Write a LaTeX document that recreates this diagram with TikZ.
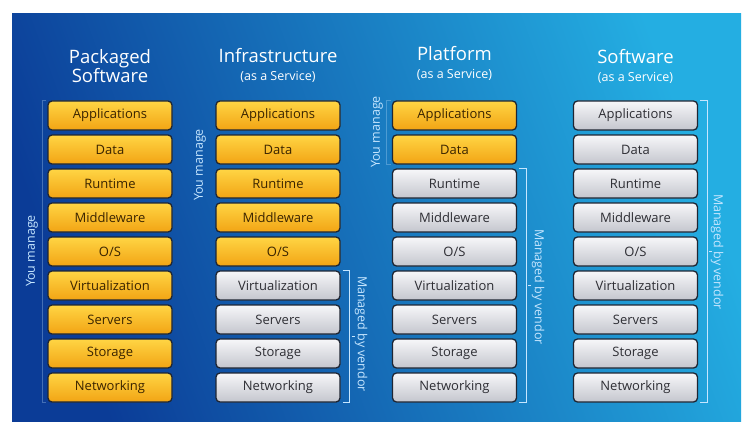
\documentclass[tikz,border=0pt]{standalone}
\usepackage{fontspec}
\setmainfont{Open Sans}
\definecolor{PanelDark}{HTML}{0B3C97}
\definecolor{PanelLight}{HTML}{24AEE2}
\definecolor{BoxOrangeTop}{HTML}{FFD544}
\definecolor{BoxOrangeBot}{HTML}{F2A414}
\definecolor{BoxGrayTop}{HTML}{F7F7F9}
\definecolor{BoxGrayBot}{HTML}{C4C6CE}
\definecolor{BoxEdge}{HTML}{1F2633}
\definecolor{TextBrown}{HTML}{3A2400}
\definecolor{TextGray}{HTML}{2E2E34}
\definecolor{LabelBlue}{HTML}{C6E6FF}
\usepackage{tikz}
\usetikzlibrary{positioning, calc}

\begin{document}
\begin{tikzpicture}[x=1pt, y=-1pt,
        ubox/.style={draw=BoxEdge, rounded corners=4pt, minimum width=124pt, minimum height=29pt, line width=1.3pt, top color=BoxOrangeTop, bottom color=BoxOrangeBot, text=TextBrown, font=\fontsize{13}{15}\selectfont},
        vbox/.style={ubox, top color=BoxGrayTop, bottom color=BoxGrayBot, text=TextGray},
        title/.style={text=white, align=center, font=\fontsize{18.5}{22}\selectfont},
        sub/.style={text=white, font=\fontsize{12.5}{14}\selectfont, inner sep=0pt},
        side/.style={text=LabelBlue, font=\fontsize{12.5}{14}\selectfont, inner sep=0pt},
        brk/.style={LabelBlue, line width=1pt}
    ]
        \useasboundingbox (0,0) rectangle (753,428);
        \fill[white] (0,0) rectangle (753,428);
        \shade[left color=PanelDark, right color=PanelLight, shading angle=110] (12,14) rectangle (741,421);

        % column titles
        \node[title] (tpk) at (110,66) {Packaged\\[-3pt]Software};
        \node[title] (tia) at (278,56) {Infrastructure};
        \node[sub, below=4pt of tia] (sia) {(as a Service)};
        \node[title] (tpa) at (454.5,54) {Platform};
        \node[sub, below=4pt of tpa] (spa) {(as a Service)};
        \node[title] (tsa) at (635.5,57) {Software};
        \node[sub, below=4pt of tsa] (ssa) {(as a Service)};

        % packaged software
        \node[ubox] (p1) at (110,115.5) {Applications};
        \node[ubox] (p2) at (110,149.5) {Data};
        \node[ubox] (p3) at (110,183.5) {Runtime};
        \node[ubox] (p4) at (110,217.5) {Middleware};
        \node[ubox] (p5) at (110,251.5) {O/S};
        \node[ubox] (p6) at (110,285.5) {Virtualization};
        \node[ubox] (p7) at (110,319.5) {Servers};
        \node[ubox] (p8) at (110,353.5) {Storage};
        \node[ubox] (p9) at (110,387.5) {Networking};

        % infrastructure
        \node[ubox] (i1) at (278,115.5) {Applications};
        \node[ubox] (i2) at (278,149.5) {Data};
        \node[ubox] (i3) at (278,183.5) {Runtime};
        \node[ubox] (i4) at (278,217.5) {Middleware};
        \node[ubox] (i5) at (278,251.5) {O/S};
        \node[vbox] (i6) at (278,285.5) {Virtualization};
        \node[vbox] (i7) at (278,319.5) {Servers};
        \node[vbox] (i8) at (278,353.5) {Storage};
        \node[vbox] (i9) at (278,387.5) {Networking};

        % platform
        \node[ubox] (a1) at (454.5,115.5) {Applications};
        \node[ubox] (a2) at (454.5,149.5) {Data};
        \node[vbox] (a3) at (454.5,183.5) {Runtime};
        \node[vbox] (a4) at (454.5,217.5) {Middleware};
        \node[vbox] (a5) at (454.5,251.5) {O/S};
        \node[vbox] (a6) at (454.5,285.5) {Virtualization};
        \node[vbox] (a7) at (454.5,319.5) {Servers};
        \node[vbox] (a8) at (454.5,353.5) {Storage};
        \node[vbox] (a9) at (454.5,387.5) {Networking};

        % software
        \node[vbox] (s1) at (635.5,115.5) {Applications};
        \node[vbox] (s2) at (635.5,149.5) {Data};
        \node[vbox] (s3) at (635.5,183.5) {Runtime};
        \node[vbox] (s4) at (635.5,217.5) {Middleware};
        \node[vbox] (s5) at (635.5,251.5) {O/S};
        \node[vbox] (s6) at (635.5,285.5) {Virtualization};
        \node[vbox] (s7) at (635.5,319.5) {Servers};
        \node[vbox] (s8) at (635.5,353.5) {Storage};
        \node[vbox] (s9) at (635.5,387.5) {Networking};

        % who manages what
        \draw[brk, opacity=0.3] ([xshift=-1pt]p1.north west) -- ++(-4,0) |- ([xshift=-1pt]p9.south west);
        \node[side, rotate=90] (mp) at (32,251) {You manage};
        \node[side, rotate=90] (mi) at (200,165) {You manage};
        \draw[brk, opacity=0.3] ([xshift=-1pt]a1.north west) -- ++(-4,0) |- ([xshift=-1pt]a2.south west);
        \node[side, rotate=90] (ma) at (377,132) {You manage};

        \draw[brk] ([xshift=2pt]i6.north east) -- ++(7,0) |- ([xshift=2pt]i9.south east);
        \draw[brk] ([xshift=11pt]$(i6.north east)!0.5!(i9.south east)$) -- ++(3,0);
        \node[side, rotate=-90] (vi) at (361,334) {Managed by vendor};
        \draw[brk] ([xshift=2pt]a3.north east) -- ++(7,0) |- ([xshift=2pt]a9.south east);
        \draw[brk] ([xshift=11pt]$(a3.north east)!0.5!(a9.south east)$) -- ++(3,0);
        \node[side, rotate=-90] (va) at (538,287) {Managed by vendor};
        \draw[brk] ([xshift=2pt]s1.north east) -- ++(7,0) |- ([xshift=2pt]s9.south east);
        \draw[brk] ([xshift=11pt]$(s1.north east)!0.5!(s9.south east)$) -- ++(3,0);
        \node[side, rotate=-90] (vs) at (717,252) {Managed by vendor};
    \end{tikzpicture}
\end{document}
